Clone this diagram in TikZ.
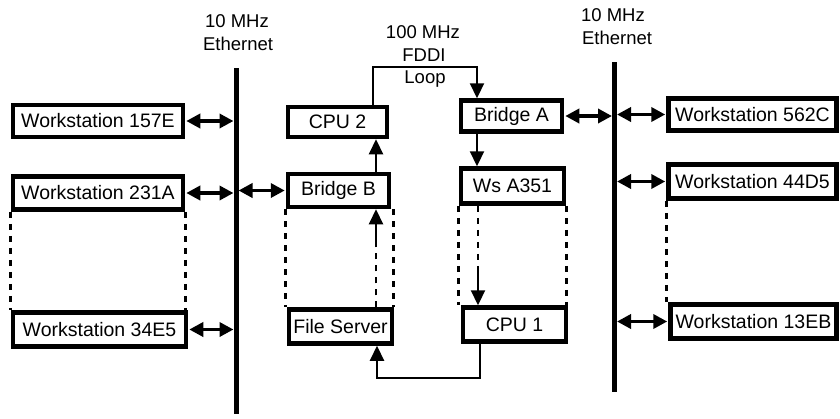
\documentclass[tikz,border=0pt]{standalone}
\usepackage{fontspec}
\setmainfont{Liberation Sans}
\usetikzlibrary{arrows.meta}
\begin{document}
\begin{tikzpicture}[x=1pt,y=-1pt,
  box/.style={draw, line width=4.5pt, inner sep=0pt, font=\fontsize{19.5}{21}\selectfont, fill=white},
  lbl/.style={font=\fontsize{18.5}{20}\selectfont, inner sep=0pt},
  bar/.style={line width=5pt},
  dbl/.style={line width=3.5pt, {Triangle[length=14pt,width=14pt]}-{Triangle[length=14pt,width=14pt]}},
  flow/.style={line width=2.2pt, -{Triangle[length=15pt,width=14pt]}},
  dsh/.style={line width=2.6pt, dash pattern=on 6pt off 6pt}]
\useasboundingbox (0,0) rectangle (840,418);
% ethernet bars
\coordinate (lbarT) at (236,68);
\coordinate (lbarB) at (236,414);
\coordinate (rbarT) at (614.5,62);
\coordinate (rbarB) at (614.5,392);
\draw[bar] (lbarT) -- (lbarB);
\draw[bar] (rbarT) -- (rbarB);
% labels
\node[lbl] (l1a) at (237,21) {10 MHz};
\node[lbl] (l1b) at (238,44) {Ethernet};
\node[lbl] (l2a) at (613,15) {10 MHz};
\node[lbl] (l2b) at (617,38) {Ethernet};
\node[lbl] (l3a) at (423,32) {100 MHz};
\node[lbl] (l3b) at (424,55) {FDDI};
\node[lbl] (l3c) at (425,79) {Loop};
% boxes
\node[box, minimum width=170pt, minimum height=32pt] (W157E) at (98,121) {Workstation 157E};
\node[box, minimum width=170pt, minimum height=33pt] (W231A) at (98,193) {Workstation 231A};
\node[box, minimum width=173pt, minimum height=34pt] (W34E5) at (99.5,329.5) {Workstation 34E5};
\node[box, minimum width=99pt, minimum height=30pt] (CPU2) at (337.5,122) {CPU 2};
\node[box, minimum width=101pt, minimum height=33pt] (BridgeB) at (338.5,190.5) {Bridge B};
\node[box, minimum width=103pt, minimum height=34pt] (FS) at (340.5,326.5) {File Server};
\node[box, minimum width=101pt, minimum height=31pt] (BridgeA) at (511.5,116) {Bridge A};
\node[box, minimum width=103pt, minimum height=35pt] (WsA351) at (512.5,186) {Ws A351};
\node[box, minimum width=103pt, minimum height=34pt] (CPU1) at (514.5,324.5) {CPU 1};
\node[box, minimum width=168pt, minimum height=32pt] (W562C) at (752.5,114.5) {Workstation 562C};
\node[box, minimum width=168pt, minimum height=34pt] (W44D5) at (752.5,181.5) {Workstation 44D5};
\node[box, minimum width=166pt, minimum height=34pt] (W13EB) at (753.5,321.5) {Workstation 13EB};
% ethernet connections
\draw[dbl, shorten <=1pt, shorten >=2.5pt] (W157E.east) -- (W157E.east -| lbarT);
\draw[dbl, shorten <=1pt, shorten >=2.5pt] (W231A.east) -- (W231A.east -| lbarT);
\draw[dbl, shorten <=1pt, shorten >=2.5pt] (W34E5.east) -- (W34E5.east -| lbarT);
\draw[dbl, shorten <=1pt, shorten >=2.5pt] (BridgeB.west) -- (BridgeB.west -| lbarT);
\draw[dbl, shorten <=1pt, shorten >=2.5pt] (BridgeA.east) -- (BridgeA.east -| rbarT);
\draw[dbl, shorten <=1pt, shorten >=2.5pt] (W562C.west) -- (W562C.west -| rbarT);
\draw[dbl, shorten <=1pt, shorten >=2.5pt] (W44D5.west) -- (W44D5.west -| rbarT);
\draw[dbl, shorten <=1pt, shorten >=2.5pt] (W13EB.west) -- (W13EB.west -| rbarT);
% FDDI loop
\coordinate (fddiL) at (373,67);
\coordinate (fddiR) at (477,67);
\draw[flow] (CPU2.north -| fddiL) -- (fddiL) -- (fddiR) -- (BridgeA.north -| fddiR);
\draw[flow] (BridgeA.south -| fddiR) -- (WsA351.north -| fddiR);
\coordinate (upx) at (376,245);
\draw[flow] (BridgeB.north -| upx) -- (CPU2.south -| upx);
\draw[dsh] (FS.north -| upx) -- (upx);
\draw[flow] (upx) -- (BridgeB.south -| upx);
\coordinate (dnx) at (478,267);
\draw[dsh] (WsA351.south -| dnx) -- (dnx);
\draw[flow] (dnx) -- (CPU1.north -| dnx);
\coordinate (retR) at (480,378);
\coordinate (retL) at (377,378);
\draw[flow] (CPU1.south -| retR) -- (retR) -- (retL) -- (FS.south -| retL);
% dashed continuations
\draw[dsh] (W231A.south west) -- (W34E5.north west -| W231A.south west);
\draw[dsh] (W231A.south east) -- (W34E5.north west -| W231A.south east);
\draw[dsh] (BridgeB.south west) -- (FS.north west -| BridgeB.south west);
\draw[dsh] ([xshift=2pt]BridgeB.south east) -- ([xshift=2pt]FS.north west -| BridgeB.south east);
\draw[dsh] (WsA351.south west) -- (CPU1.north west -| WsA351.south west);
\draw[dsh] (WsA351.south east) -- (CPU1.north west -| WsA351.south east);
\draw[dsh] (W44D5.south west) -- (W13EB.north west -| W44D5.south west);
\end{tikzpicture}
\end{document}
